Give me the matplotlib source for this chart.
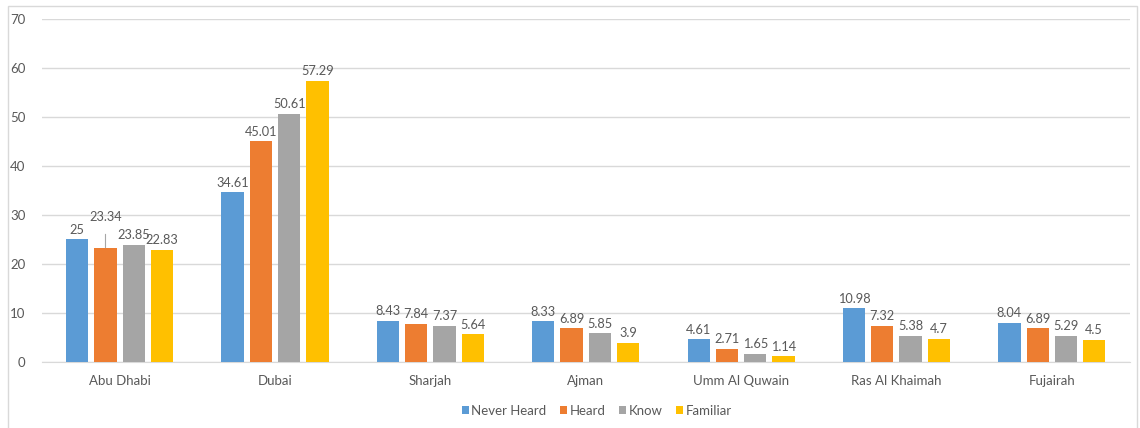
import numpy as np
import matplotlib.pyplot as plt
from matplotlib.patches import Rectangle

plt.rcParams['font.family'] = ['Lato', 'DejaVu Sans']

# Data
emirates = ["Abu Dhabi", "Dubai", "Sharjah", "Ajman", "Umm Al Quwain", "Ras Al Khaimah", "Fujairah"]
never_heard = [25, 34.61, 8.43, 8.33, 4.61, 10.98, 8.04]
heard = [23.34, 45.01, 7.84, 6.89, 2.71, 7.32, 6.89]
know = [23.85, 50.61, 7.37, 5.85, 1.65, 5.38, 5.29]
familiar = [22.83, 57.29, 5.64, 3.9, 1.14, 4.7, 4.5]

series = [("Never Heard", never_heard, "#5B9BD5"),
          ("Heard", heard, "#ED7D31"),
          ("Know", know, "#A5A5A5"),
          ("Familiar", familiar, "#FFC000")]

text_col = "#595959"

fig = plt.figure(figsize=(11.4, 4.28), dpi=100)
ax = fig.add_axes([0.0368, 0.154, 0.954, 0.802])

x = np.arange(len(emirates))
step = 0.182
width = 0.143
for i, (name, vals, col) in enumerate(series):
    pos = x + (i - 1.5) * step
    ax.bar(pos, vals, width, color=col, label=name, zorder=3)
    for j, (p, v) in enumerate(zip(pos, vals)):
        if name == "Heard" and j == 0:
            # label pushed up with a leader line
            ax.annotate(f"{v:g}", xy=(p, v), xytext=(p, v + 6.2),
                        ha="center", va="center", fontsize=9.2, color=text_col,
                        arrowprops=dict(arrowstyle="-", color="#A6A6A6", lw=0.8,
                                        shrinkA=6, shrinkB=0))
        else:
            ax.annotate(f"{v:g}", xy=(p, v), xytext=(0, 7), textcoords="offset points",
                        ha="center", va="center", fontsize=9.2, color=text_col)

ax.set_xlim(-0.5, len(emirates) - 0.5)
ax.set_ylim(0, 70)
ax.set_yticks(range(0, 71, 10))
ax.set_xticks(x)
ax.set_xticklabels(emirates)
ax.yaxis.grid(True, color="#D9D9D9", lw=1, zorder=0)
ax.tick_params(axis="both", length=0, colors=text_col, labelsize=9.5)
ax.tick_params(axis="x", pad=9)
ax.tick_params(axis="y", pad=12)
for s in ["top", "right", "left"]:
    ax.spines[s].set_visible(False)
ax.spines["bottom"].set_color("#D9D9D9")

ax.legend(loc="center", bbox_to_anchor=(0.51, -0.142), ncol=4, frameon=False,
          fontsize=9.5, labelcolor=text_col, handlelength=0.55, handleheight=0.55,
          handletextpad=0.2, columnspacing=1.0)

fig.patches.append(Rectangle((0.007, -0.01), 0.99, 0.996, transform=fig.transFigure,
                             fill=False, edgecolor="#D9D9D9", lw=1))

fig.savefig("out.png", dpi=100, facecolor="white")
